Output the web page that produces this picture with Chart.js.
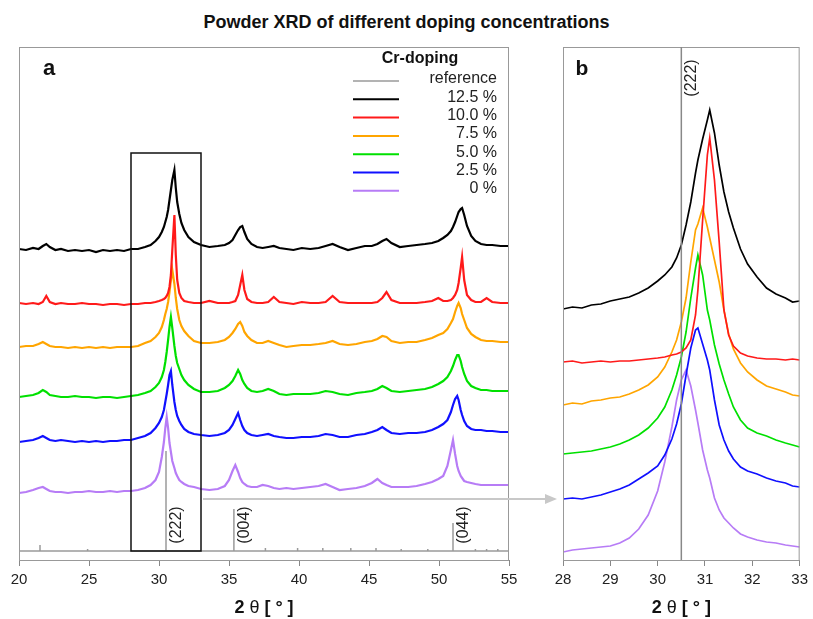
<!DOCTYPE html>
<html>
<head>
<meta charset="utf-8">
<script src="https://cdn.jsdelivr.net/npm/chart.js@4.4.0/dist/chart.umd.min.js"></script>
<style>
  body { margin: 0; background: #fff; width: 813px; height: 619px; position: relative; overflow: hidden;
         font-family: "Liberation Sans", Arial, sans-serif; }
  #title { position: absolute; left: 0; top: 12px; width: 813px; text-align: center; font-weight: bold;
           font-size: 18px; line-height: 20px; color: #111; }
  #chartA { position: absolute; left: 0; top: 0; }
  #chartB { position: absolute; left: 540px; top: 0; }
  #arrow { position: absolute; left: 0; top: 0; pointer-events: none; }
</style>
</head>
<body>
<div id="title">Powder XRD of different doping concentrations</div>
<canvas id="chartA" width="540" height="619"></canvas>
<canvas id="chartB" width="273" height="619"></canvas>
<svg id="arrow" width="813" height="619">
  <line x1="203" y1="499" x2="547" y2="499" stroke="#c8c8c8" stroke-width="2"/>
  <polygon points="557,499 545,494 545,504" fill="#c8c8c8"/>
</svg>
<script>
// panel a : full scan, shared 2-theta grid (intensity offsets are as plotted, arbitrary units)
const xA = [20, 20.5, 21, 21.4, 21.7, 21.95, 22.2, 22.6, 23, 23.5,
  24, 24.5, 25, 25.5, 26, 26.5, 27, 27.5, 28, 28.5,
  29, 29.4, 29.75, 30, 30.2, 30.35, 30.45, 30.55, 30.65, 30.75,
  30.85, 30.95, 31.1, 31.2, 31.3, 31.45, 31.6, 31.8, 32.1, 32.5,
  33, 33.6, 34.2, 34.7, 35.0, 35.25, 35.45, 35.65, 35.8, 35.95,
  36.1, 36.3, 36.6, 37, 37.4, 37.8, 38.2, 38.6, 39.1, 39.6,
  40.2, 40.8, 41.4, 41.9, 42.4, 42.9, 43.5, 44.1, 44.7, 45.2,
  45.6, 45.95, 46.25, 46.6, 47.2, 47.8, 48.4, 49, 49.5, 49.95,
  50.3, 50.6, 50.85, 51.0, 51.15, 51.3, 51.4, 51.55, 51.65, 51.8,
  52.0, 52.3, 52.6, 53, 53.4, 53.8, 54.4, 55];

const aCr125 = [311, 310, 312, 311, 314, 316, 313, 310, 311, 309,
  310, 309, 310, 308, 310, 309, 310, 309, 311, 311,
  313, 315, 319, 323, 328, 333, 338, 343, 350, 360,
  370, 380, 390, 372, 358, 346, 337, 330, 323, 318,
  315, 313, 314, 315, 317, 320, 325, 330, 333, 334,
  328, 321, 316, 313, 312, 313, 314, 312, 311, 310,
  312, 311, 312, 314, 316, 313, 310, 312, 314, 314,
  316, 319, 321, 317, 313, 314, 315, 316, 317, 319,
  322, 325, 329, 333, 338, 344, 348, 351, 352, 345,
  334, 324, 319, 316, 315, 315, 314, 314];

const aCr100 = [257, 256, 257, 256, 258, 264, 258, 256, 257, 256,
  256, 257, 256, 256, 255, 256, 256, 255, 256, 256,
  257, 257, 258, 259, 260, 261, 262, 264, 267, 273,
  285, 310, 345, 305, 280, 267, 262, 259, 258, 257,
  257, 259, 257, 257, 257, 258, 259, 265, 275, 285,
  270, 261, 258, 257, 257, 258, 263, 258, 257, 256,
  258, 257, 257, 258, 264, 258, 257, 257, 257, 257,
  258, 262, 268, 260, 257, 257, 257, 258, 259, 262,
  259, 259, 260, 262, 265, 270, 277, 292, 303, 280,
  265, 260, 258, 258, 262, 258, 257, 257];

const aCr75 = [213, 214, 214, 216, 218, 216, 214, 213, 213, 212,
  213, 212, 213, 212, 213, 212, 213, 213, 213, 214,
  217, 219, 223, 227, 233, 240, 246, 251, 258, 268,
  280, 290, 276, 262, 251, 240, 234, 229, 224, 219,
  217, 217, 218, 220, 223, 227, 231, 236, 238, 234,
  228, 224, 220, 217, 217, 219, 217, 215, 213, 214,
  215, 215, 216, 217, 219, 216, 215, 216, 218, 219,
  221, 224, 223, 219, 217, 218, 218, 220, 222, 225,
  227, 231, 237, 241, 248, 254, 257, 252, 246, 240,
  232, 226, 223, 220, 219, 219, 218, 218];

const aCr50 = [163, 164, 165, 167, 170, 168, 165, 164, 163, 163,
  164, 163, 163, 162, 163, 163, 162, 163, 164, 165,
  167, 169, 173, 177, 183, 190, 198, 208, 220, 233,
  243, 232, 214, 204, 197, 191, 185, 180, 175, 171,
  168, 168, 169, 172, 175, 179, 184, 190, 186, 180,
  176, 172, 169, 168, 169, 171, 169, 166, 165, 166,
  166, 166, 167, 169, 168, 166, 165, 167, 168, 169,
  171, 174, 172, 169, 168, 169, 170, 171, 173, 176,
  179, 183, 189, 194, 200, 205, 205, 199, 193, 186,
  179, 174, 172, 170, 170, 169, 169, 169];

const aCr25 = [118, 119, 120, 122, 124, 122, 120, 119, 120, 119,
  118, 119, 118, 119, 118, 119, 119, 120, 120, 122,
  124, 127, 132, 137, 143, 150, 158, 166, 175, 185,
  189, 175, 158, 150, 144, 139, 135, 131, 128, 126,
  125, 124, 125, 127, 130, 135, 141, 147, 140, 134,
  130, 127, 125, 124, 125, 126, 124, 123, 122, 122,
  123, 123, 124, 126, 125, 123, 123, 125, 126, 128,
  130, 133, 130, 127, 126, 127, 127, 128, 130, 133,
  136, 140, 148, 155, 161, 164, 160, 150, 145, 139,
  134, 131, 130, 130, 129, 129, 128, 128];

const aCr0 = [67, 68, 70, 72, 73, 71, 69, 68, 68, 67,
  68, 68, 69, 68, 68, 69, 68, 69, 69, 70,
  72, 75, 80, 88, 103, 118, 132, 143, 132, 117,
  108, 99, 92, 87, 84, 80, 78, 76, 74, 73,
  71, 70, 71, 74, 80, 89, 95, 88, 82, 78,
  76, 74, 73, 73, 75, 74, 72, 71, 72, 71,
  72, 73, 74, 76, 73, 70, 71, 72, 74, 77,
  81, 77, 75, 73, 73, 73, 74, 76, 78, 81,
  84, 94, 110, 120, 106, 94, 89, 84, 82, 79,
  78, 77, 76, 75, 75, 75, 75, 75];

// reference pattern (sticks) and indexed reflections
const refPos = [21.5, 24.9, 30.5, 35.35, 37.6, 39.9, 41.7, 43.7, 45.5, 47.3, 49.2, 51.0, 52.6, 53.4, 54.2];
const refHeight = [6, 2, 100, 42, 3, 3, 3, 3, 3, 2, 2, 28, 2, 2, 2];
const refBase = 9;
const hklLabels = ['(222)', '(004)', '(044)'];
const hklPos = [30.5, 35.35, 51.0];

// panel b : zoom on the (222) reflection
const xB = [28, 28.2, 28.4, 28.6, 28.8, 29, 29.2, 29.4, 29.6, 29.8,
  30, 30.15, 30.3, 30.4, 30.5, 30.6, 30.7, 30.8, 30.85, 30.95,
  31.05, 31.1, 31.2, 31.3, 31.4, 31.5, 31.6, 31.75, 31.9, 32.1,
  32.3, 32.5, 32.7, 32.85, 33];

const bCr125 = [251, 253, 252, 255, 256, 259, 261, 263, 267, 272,
  279, 285, 293, 302, 315, 335, 358, 387, 400, 421,
  440, 450, 427, 395, 368, 348, 332, 311, 296, 283,
  272, 266, 262, 258, 259];
const bCr100 = [198, 199, 197, 198, 199, 198, 199, 199, 200, 201,
  202, 203, 205, 206, 208, 212, 220, 245, 270, 340,
  405, 422, 380, 318, 250, 225, 214, 207, 204, 202,
  201, 201, 200, 201, 200];
const bCr75 = [155, 157, 156, 159, 160, 162, 163, 166, 170, 175,
  183, 193, 208, 220, 238, 262, 298, 330, 336, 352,
  333, 322, 300, 278, 250, 226, 211, 197, 188, 180,
  174, 171, 168, 165, 164];
const bCr50 = [106, 107, 108, 109, 111, 113, 116, 120, 125, 132,
  142, 153, 170, 185, 203, 228, 262, 292, 305, 285,
  250, 240, 215, 196, 180, 166, 153, 140, 132, 127,
  124, 120, 117, 115, 113];
const bCr25 = [61, 62, 61, 63, 65, 68, 71, 75, 81, 87,
  94, 105, 121, 136, 156, 185, 212, 230, 232, 216,
  200, 190, 160, 135, 120, 109, 101, 93, 89, 86,
  82, 79, 77, 74, 73];
const bCr0 = [8, 10, 11, 12, 13, 14, 17, 22, 31, 45,
  69, 98, 133, 160, 180, 190, 174, 150, 137, 110,
  90, 82, 62, 50, 42, 37, 32, 26, 23, 20,
  18, 17, 15, 14, 13];

const seriesLabels = ['12.5 %', '10.0 %', '7.5 %', '5.0 %', '2.5 %', '0 %'];
const seriesColors = ['#000000', '#ff1a1a', '#ffa500', '#00e000', '#1010ff', '#b77cf6'];
const refColor = '#9a9a9a';

Chart.defaults.font.family = '"Liberation Sans", Arial, sans-serif';
Chart.defaults.color = '#222';

const toPoints = (xs, ys) => xs.map((x, i) => ({x: x, y: ys[i]}));

const refData = [{x: 20, y: refBase}, {x: 55, y: refBase}];
refPos.forEach((p, i) => {
    refData.push({x: p, y: null}, {x: p, y: refBase}, {x: p, y: refBase + refHeight[i]});
});

function drawAxisTitle(ctx, cx, cy) {
    const parts = [['2 ', 'bold 18px'], ['θ', '18px'], [' [ ° ]', 'bold 18px']];
    let w = 0;
    parts.forEach(p => { ctx.font = p[1] + ' "Liberation Sans", Arial'; w += ctx.measureText(p[0]).width; });
    let x = cx - w / 2;
    ctx.fillStyle = '#111';
    ctx.textAlign = 'left';
    ctx.textBaseline = 'middle';
    parts.forEach(p => {
        ctx.font = p[1] + ' "Liberation Sans", Arial';
        ctx.fillText(p[0], x, cy);
        x += ctx.measureText(p[0]).width;
    });
}

function drawVertText(ctx, text, x, y, size) {
    ctx.save();
    ctx.translate(x, y);
    ctx.rotate(-Math.PI / 2);
    ctx.font = size + 'px "Liberation Sans", Arial';
    ctx.fillStyle = '#222';
    ctx.textAlign = 'center';
    ctx.textBaseline = 'middle';
    ctx.fillText(text, 0, 0);
    ctx.restore();
}

const decorA = {
    id: 'decorA',
    afterDatasetsDraw(chart) {
        const {ctx, chartArea: ca, scales: {x, y}} = chart;
        ctx.save();
        ctx.strokeStyle = '#999';
        ctx.lineWidth = 1;
        ctx.strokeRect(ca.left + 0.5, ca.top + 0.5, ca.right - ca.left - 1, ca.bottom - ca.top);
        // zoom box
        ctx.strokeStyle = '#111';
        ctx.lineWidth = 1.5;
        const bx0 = x.getPixelForValue(28), bx1 = x.getPixelForValue(33);
        const by0 = y.getPixelForValue(407), by1 = y.getPixelForValue(refBase);
        ctx.strokeRect(bx0, by0, bx1 - bx0, by1 - by0);
        // hkl labels
        hklLabels.forEach((t, i) => drawVertText(ctx, t, x.getPixelForValue(hklPos[i]) + 11, 525, 16));
        // panel letter
        ctx.fillStyle = '#111';
        ctx.font = 'bold 22px "Liberation Sans", Arial';
        ctx.textAlign = 'center';
        ctx.textBaseline = 'middle';
        ctx.fillText('a', 49, 69);
        // legend
        ctx.font = 'bold 16px "Liberation Sans", Arial';
        ctx.fillText('Cr-doping', 420, 59);
        const names = ['reference'].concat(seriesLabels);
        const cols = [refColor].concat(seriesColors);
        names.forEach((n, i) => {
            const ly = 81 + i * 18.3;
            ctx.strokeStyle = cols[i];
            ctx.lineWidth = i === 0 ? 1.5 : 2;
            ctx.beginPath();
            ctx.moveTo(353, ly);
            ctx.lineTo(399, ly);
            ctx.stroke();
            ctx.fillStyle = '#222';
            ctx.font = '16px "Liberation Sans", Arial';
            ctx.textAlign = 'right';
            ctx.fillText(n, 497, ly - 2);
        });
        drawAxisTitle(ctx, (ca.left + ca.right) / 2, 608);
        ctx.restore();
    }
};

const decorB = {
    id: 'decorB',
    afterDatasetsDraw(chart) {
        const {ctx, chartArea: ca, scales: {x}} = chart;
        ctx.save();
        ctx.strokeStyle = '#999';
        ctx.lineWidth = 1;
        ctx.strokeRect(ca.left + 0.5, ca.top + 0.5, ca.right - ca.left - 1, ca.bottom - ca.top);
        const px = x.getPixelForValue(hklPos[0]);
        ctx.strokeStyle = '#888';
        ctx.lineWidth = 1.5;
        ctx.beginPath();
        ctx.moveTo(px, ca.top);
        ctx.lineTo(px, ca.bottom);
        ctx.stroke();
        drawVertText(ctx, hklLabels[0], px + 10, 78, 16);
        ctx.fillStyle = '#111';
        ctx.font = 'bold 21px "Liberation Sans", Arial';
        ctx.textAlign = 'center';
        ctx.textBaseline = 'middle';
        ctx.fillText('b', 42, 69);
        drawAxisTitle(ctx, (ca.left + ca.right) / 2, 608);
        ctx.restore();
    }
};

function xScale(min, max, step) {
    return {
        type: 'linear', min: min, max: max,
        ticks: {stepSize: step, font: {size: 15}, color: '#222', padding: 5, maxRotation: 0},
        grid: {drawOnChartArea: false, drawTicks: true, tickLength: 6, color: '#888'},
        border: {display: true, color: '#888'},
        afterFit: s => { s.height = 59; }
    };
}

function lineSets(xs, arrays, width) {
    return arrays.map((arr, i) => ({
        label: seriesLabels[i],
        data: toPoints(xs, arr),
        borderColor: seriesColors[i],
        borderWidth: width,
        pointRadius: 0,
        tension: 0,
        fill: false
    }));
}

const commonOpts = {
    responsive: false,
    animation: false,
    events: [],
    plugins: {legend: {display: false}, tooltip: {enabled: false}}
};

new Chart(document.getElementById('chartA'), {
    type: 'line',
    data: {
        datasets: lineSets(xA, [aCr125, aCr100, aCr75, aCr50, aCr25, aCr0], 2.2).concat([{
            label: 'reference',
            data: refData,
            borderColor: refColor,
            borderWidth: 1.5,
            pointRadius: 0,
            spanGaps: false,
            fill: false
        }])
    },
    options: Object.assign({}, commonOpts, {
        layout: {padding: {left: 19, right: 31, top: 47, bottom: 0}},
        scales: {x: xScale(20, 55, 5), y: {display: false, min: 0, max: 513}}
    }),
    plugins: [decorA]
});

new Chart(document.getElementById('chartB'), {
    type: 'line',
    data: {datasets: lineSets(xB, [bCr125, bCr100, bCr75, bCr50, bCr25, bCr0], 1.7)},
    options: Object.assign({}, commonOpts, {
        layout: {padding: {left: 23, right: 11, top: 47, bottom: 0}},
        scales: {x: xScale(28, 33, 1), y: {display: false, min: 0, max: 513}}
    }),
    plugins: [decorB]
});
</script>
</body>
</html>
